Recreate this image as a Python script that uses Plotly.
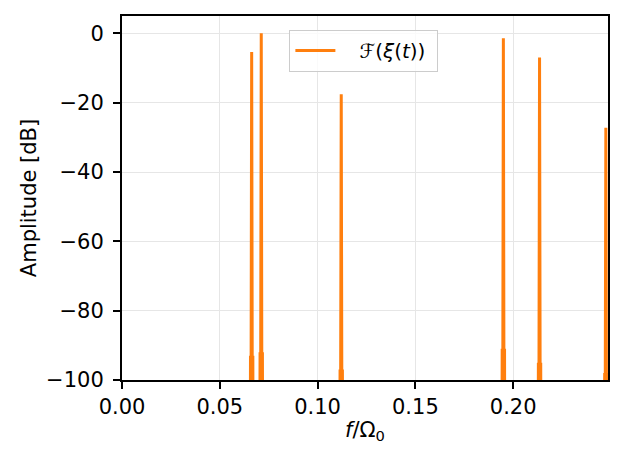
import plotly.graph_objects as go

# Peak data
peak_freqs = [0.0663, 0.0712, 0.1121, 0.1950, 0.2135, 0.2474]
peak_amps = [-5.4, 0.0, -17.6, -1.4, -7.0, -27.2]
sidelobe_level = [-93.0, -92.0, -97.0, -91.0, -95.0, -98.0]
floor_db = -160.0
lobe_half = 0.0003

x_tick_vals = [0.0, 0.05, 0.10, 0.15, 0.20]
x_tick_text = ["0.00", "0.05", "0.10", "0.15", "0.20"]
y_tick_vals = [0, -20, -40, -60, -80, -100]
y_tick_text = ["0", "−20", "−40", "−60", "−80", "−100"]

xs, ys = [], []
for f, a, s in zip(peak_freqs, peak_amps, sidelobe_level):
    xs += [f - 3 * lobe_half, f - 2 * lobe_half, f - 1.4 * lobe_half, f - lobe_half, f,
           f + lobe_half, f + 1.4 * lobe_half, f + 2 * lobe_half, f + 3 * lobe_half, None]
    ys += [floor_db, s, floor_db, -100.5, a, -100.5, floor_db, s, floor_db, None]

fig = go.Figure()
fig.add_trace(go.Scatter(
    x=xs, y=ys, mode="lines",
    line=dict(color="#ff7f0e", width=3),
    name="\u00a0\u00a0\u00a0ℱ(<i>ξ</i>(<i>t</i>))\u00a0",
    connectgaps=False,
))

axis_common = dict(
    showline=True, linecolor="black", linewidth=1.6, mirror=True,
    ticks="outside", ticklen=7, tickwidth=1.5, tickcolor="black",
    showgrid=True, gridcolor="#e6e6e6", gridwidth=1.2,
    zeroline=False,
    tickfont=dict(family="DejaVu Sans", size=21, color="black"),
)

fig.update_layout(
    width=624, height=464,
    margin=dict(l=122, r=16, t=16, b=84),
    paper_bgcolor="white", plot_bgcolor="white",
    font=dict(family="DejaVu Sans", size=21, color="black"),
    showlegend=True,
    legend=dict(
        x=0.344, y=0.962, xanchor="left", yanchor="top",
        bordercolor="#cccccc", borderwidth=1.2, bgcolor="rgba(255,255,255,0.8)",
        font=dict(family="DejaVu Sans", size=20),
        itemwidth=40,
    ),
    xaxis=dict(
        range=[0, 0.2485],
        tickvals=x_tick_vals,
        ticktext=x_tick_text,
        title=dict(text="<i>f</i>/Ω<sub>0</sub>", font=dict(size=21), standoff=4),
        automargin=False,
        **axis_common,
    ),
    yaxis=dict(
        range=[-100, 5],
        tickvals=y_tick_vals,
        ticktext=[t + "\u2005" for t in y_tick_text],
        title=dict(text="Amplitude [dB]", font=dict(size=21), standoff=4),
        automargin=False,
        **axis_common,
    ),
)

fig.write_html("out.html")
